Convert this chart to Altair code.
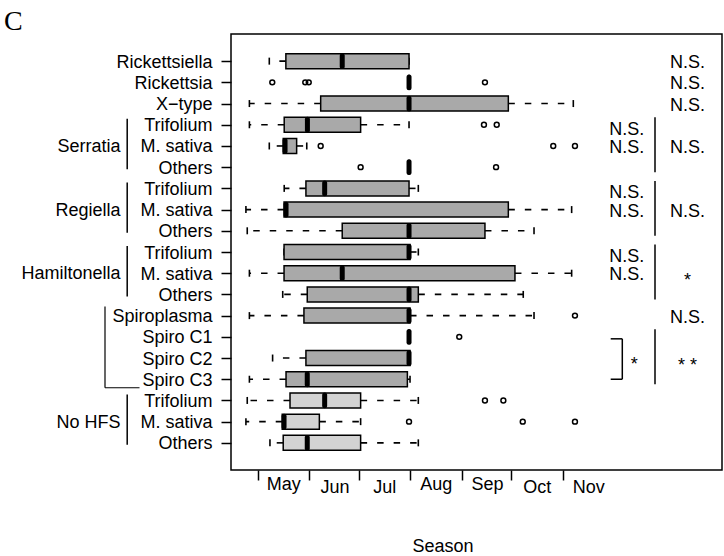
import json
import altair as alt
import pandas as pd

FONT = "Liberation Sans"

# ---------------- data (day of year) ----------------
row_labels = ["Rickettsiella", "Rickettsia", "X\u2212type",
              "Trifolium", "M. sativa", "Others",
              "Trifolium", "M. sativa", "Others",
              "Trifolium", "M. sativa", "Others",
              "Spiroplasma", "Spiro C1", "Spiro C2", "Spiro C3",
              "Trifolium", "M. sativa", "Others"]
whisk_lo = [128, 212.3, 116, 116, 128, 212.3, 137, 113.9, 114.7, 136.9,
            116, 136.1, 116, 212.3, 130, 116, 114.7, 113.9, 128.4]
box_q1 = [138, 212.3, 159, 137, 136.4, 212.3, 150.1, 136.9, 172, 136.9,
          136.9, 150.9, 148.9, 212.3, 150.1, 138.1, 140.5, 135.8, 136.4]
box_med = [172, 212.3, 212.3, 151, 137.5, 212.3, 161.4, 138.1, 212.3, 212.3,
           172, 212.3, 212.3, 212.3, 212.3, 150.9, 161.4, 136.9, 150.9]
box_q3 = [212.3, 212.3, 272.2, 183.1, 144.5, 212.3, 212.3, 272.2, 258.1, 212.9,
          276.2, 217.9, 212.9, 212.3, 212.9, 211.3, 183.1, 158.2, 183.1]
whisk_hi = [212.3, 212.3, 311.4, 212.3, 150.6, 212.3, 217.9, 310.4, 287.7, 217.9,
            310.4, 281.2, 287.7, 212.3, 212.9, 212.9, 217.9, 183.1, 217.9]
box_group = ["HFS"] * 16 + ["No HFS"] * 3

out_row = [2, 2, 2, 2, 4, 4, 5, 5, 5, 6, 6, 13, 14, 17, 17, 18, 18, 18]
out_day = [129.8, 149.7, 151.8, 258.1, 257.5, 265.2, 159, 299.3, 312.4,
           183.1, 264.8, 312.4, 242.6, 258.1, 269.2, 212.3, 280.9, 312.4]

month_start = [121, 152, 182, 213, 244, 274, 305]
month_names = ["May", "Jun", "Jul", "Aug", "Sep", "Oct", "Nov"]
raised_months = ["May", "Aug", "Sep"]

group_names = ["Serratia", "Regiella", "Hamiltonella", "No HFS"]
group_first = [4, 7, 10, 17]
group_last = [6, 9, 12, 19]
spiro_first, spiro_last = 13, 16

right_text = ["N.S.", "N.S.", "N.S.", "N.S.", "N.S.", "N.S."]
right_text_row = [1, 2, 3, 5, 8, 13]
right_star = ["*", "* *"]
right_star_row = [11, 15]
pair_text_row = [4, 7, 10]          # "N.S." / "N.S." pairs start row
test_bar_first = [4, 7, 10, 14]
test_bar_last = [6, 9, 12, 16]
bracket_first, bracket_last = 14, 16
bracket_star = ["*"]
bracket_star_row = [15]

panel_label = ["C"]

# ---------------- tables ----------------
rows = list(range(1, len(row_labels) + 1))
df = pd.DataFrame({"row": rows, "lo": whisk_lo, "q1": box_q1, "med": box_med,
                   "q3": box_q3, "hi": whisk_hi, "grp": box_group})

wh = []
for r, lo, q1, q3, hi in zip(rows, whisk_lo, box_q1, box_q3, whisk_hi):
    if q1 > lo:
        wh.append({"row": r, "start": q1, "end": lo})
    if hi > q3:
        wh.append({"row": r, "start": q3, "end": hi})
wdf = pd.DataFrame(wh)

sdf = pd.DataFrame({"row": rows + rows, "x": whisk_lo + whisk_hi})
odf = pd.DataFrame({"row": out_row, "x": out_day})
gdf = pd.DataFrame({"name": group_names, "first": group_first, "last": group_last,
                    "mid": [(a + b) / 2 for a, b in zip(group_first, group_last)]})
spdf = pd.DataFrame({"first": [spiro_first], "last": [spiro_last]})
rtdf = pd.DataFrame({"t": right_text, "row": right_text_row})
rsdf = pd.DataFrame({"t": right_star, "row": right_star_row})
ptdf = pd.DataFrame({"t": ["N.S.\nN.S."] * len(pair_text_row), "row": pair_text_row})
tbdf = pd.DataFrame({"first": test_bar_first, "last": test_bar_last})
brdf = pd.DataFrame({"first": [bracket_first], "last": [bracket_last]})
bsdf = pd.DataFrame({"t": bracket_star, "row": bracket_star_row})
cdf = pd.DataFrame({"t": panel_label})

# ---------------- scales & axes ----------------
xs = alt.Scale(domain=[104.9, 401.1], nice=False, zero=False)
ys = alt.Scale(domain=[-0.28, 20.28], nice=False, zero=False, reverse=True)

x_label_expr = f"{json.dumps(month_names)}[indexof({json.dumps(month_start)}, datum.value)]"
raised_test = " || ".join(
    f"datum.value == {month_start[month_names.index(m)]}" for m in raised_months)
y_label_expr = f"{json.dumps(row_labels, ensure_ascii=False)}[datum.value - 1]"


def make_xaxis(cond):
    kw = dict(values=month_start, labelExpr=x_label_expr, tickSize=10, tickWidth=1.5,
              tickColor="black", labelOffset=25.5, labelBaseline="alphabetic",
              labelAlign="center", labelFontSize=18, labelFont=FONT, labelColor="black",
              labelFlush=False, labelOverlap=False, domain=False, grid=False,
              title="Season", titleX=211.5, titleY=81.5, titleBaseline="alphabetic",
              titleAlign="center", titleFont=FONT, titleFontSize=18,
              titleFontWeight="normal", titleColor="black")
    if cond:
        kw["labelPadding"] = {"condition": {"test": raised_test, "value": 9}, "value": 12}
    else:
        kw["labelPadding"] = 11
    return alt.Axis(**kw)


yaxis = alt.Axis(values=rows, labelExpr=y_label_expr, tickSize=10, tickWidth=1.5,
                 tickColor="black", labelFontSize=18, labelFont=FONT, labelColor="black",
                 labelPadding=9, labelBaseline="alphabetic", labelOffset=6,
                 labelFlush=False, labelOverlap=False, domain=False, grid=False, title=None)


def build(cond):
    xaxis = make_xaxis(cond)

    def X(f):
        return alt.X(f, type="quantitative", scale=xs, axis=xaxis)

    def Y(f):
        return alt.Y(f, type="quantitative", scale=ys, axis=yaxis)

    whiskers = alt.Chart(wdf).mark_rule(color="black", strokeWidth=1.6,
                                        strokeDash=[6.5, 10]).encode(
        x=X("start"), x2="end", y=Y("row"))
    staples = alt.Chart(sdf).mark_rule(color="black", strokeWidth=1.6,
                                       yOffset=-3.5, y2Offset=3.5).encode(
        x=X("x"), y=Y("row"), y2="row")
    boxes = alt.Chart(df).mark_rect(stroke="black", strokeWidth=1.5,
                                    yOffset=-7.5, y2Offset=7.5).encode(
        x=X("q1"), x2="q3", y=Y("row"), y2="row",
        fill=alt.Fill("grp:N", scale=alt.Scale(domain=["HFS", "No HFS"],
                                               range=["#a9a9a9", "#d3d3d3"]),
                      legend=None))
    medians = alt.Chart(df).mark_rule(color="black", strokeWidth=5, strokeCap="round",
                                      yOffset=-5.4, y2Offset=5.4).encode(
        x=X("med"), y=Y("row"), y2="row")
    outliers = alt.Chart(odf).mark_point(shape="circle", filled=False, color="black",
                                         strokeWidth=1.5, size=24, opacity=1).encode(
        x=X("x"), y=Y("row"))

    # left-side group labels and brackets
    glabels = alt.Chart(gdf).mark_text(align="right", baseline="alphabetic", dy=6,
                                       fontSize=18, font=FONT, color="black").encode(
        x=alt.value(-110.5), y=Y("mid"), text="name:N")
    glines = alt.Chart(gdf).mark_rule(color="black", strokeWidth=1.5,
                                      yOffset=-6, y2Offset=2).encode(
        x=alt.value(-103.8), y=Y("first"), y2="last")
    spv = alt.Chart(spdf).mark_rule(color="black", strokeWidth=1.2,
                                    yOffset=-9, y2Offset=8.5).encode(
        x=alt.value(-126), y=Y("first"), y2="last")
    sph = alt.Chart(spdf).mark_rule(color="black", strokeWidth=1.2,
                                    yOffset=8.5).encode(
        x=alt.value(-126), x2=alt.value(-91.5), y=Y("last"))

    # right-side test annotations
    rtext = alt.Chart(rtdf).mark_text(align="center", baseline="alphabetic", dy=7,
                                      fontSize=18, font=FONT, color="black").encode(
        x=alt.value(456.5), y=Y("row"), text="t:N")
    rstar = alt.Chart(rsdf).mark_text(align="center", baseline="alphabetic", dy=13,
                                      fontSize=18, font=FONT, color="black").encode(
        x=alt.value(456.5), y=Y("row"), text="t:N")
    ptext = alt.Chart(ptdf).mark_text(align="center", baseline="alphabetic", dy=10,
                                      lineBreak="\n", lineHeight=18.3,
                                      fontSize=18, font=FONT, color="black").encode(
        x=alt.value(395.7), y=Y("row"), text="t:N")
    tbars = alt.Chart(tbdf).mark_rule(color="black", strokeWidth=1.5,
                                      yOffset=-7.5, y2Offset=5).encode(
        x=alt.value(424), y=Y("first"), y2="last")
    br_top = alt.Chart(brdf).mark_rule(color="black", strokeWidth=1.5,
                                       yOffset=2).encode(
        x=alt.value(379.7), x2=alt.value(391.3), y=Y("first"))
    br_bot = alt.Chart(brdf).mark_rule(color="black", strokeWidth=1.5,
                                       yOffset=0).encode(
        x=alt.value(379.7), x2=alt.value(391.3), y=Y("last"))
    br_v = alt.Chart(brdf).mark_rule(color="black", strokeWidth=1.5,
                                     yOffset=2, y2Offset=0).encode(
        x=alt.value(391.3), y=Y("first"), y2="last")
    bstar = alt.Chart(bsdf).mark_text(align="center", baseline="alphabetic", dy=12,
                                      fontSize=18, font=FONT, color="black").encode(
        x=alt.value(403.3), y=Y("row"), text="t:N")

    ctext = alt.Chart(cdf).mark_text(align="left", baseline="alphabetic", fontSize=28,
                                     font="Liberation Serif", color="black").encode(
        x=alt.value(-227), y=alt.value(-4), text="t:N")

    ch = alt.layer(whiskers, staples, boxes, medians, outliers,
                   glabels, glines, spv, sph,
                   rtext, rstar, ptext, tbars, br_top, br_bot, br_v, bstar,
                   ctext).properties(
        width=491, height=436,
        padding={"left": 231, "top": 34, "right": 2, "bottom": 86},
        autosize=alt.AutoSizeParams(type="none"),
    ).configure_view(stroke="black", strokeWidth=1.5)
    return ch


try:
    chart = build(True)
    chart.to_dict()
except Exception:
    chart = build(False)

chart.save("out.html", embed_options={"renderer": "svg", "actions": False})
